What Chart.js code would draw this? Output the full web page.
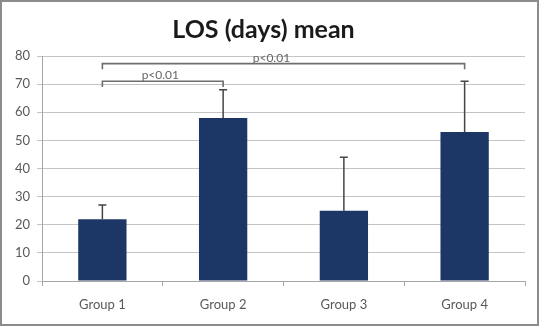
<!DOCTYPE html>
<html>
<head>
<meta charset="utf-8">
<script src="https://cdn.jsdelivr.net/npm/chart.js@4.4.1/dist/chart.umd.min.js"></script>
<style>
  html, body { margin: 0; padding: 0; background: #fff; }
  #box { width: 539px; height: 326px; box-sizing: border-box; border: 2px solid #8c8c8c; position: relative; }
</style>
</head>
<body>
<div id="box"><canvas id="myChart"></canvas></div>
<script>
// data
const groups = ['Group 1', 'Group 2', 'Group 3', 'Group 4'];
const losMean = [22, 58, 25, 53];
const losErrTop = [27, 68, 44, 71];
const yTicks = [0, 10, 20, 30, 40, 50, 60, 70, 80];

// significance brackets (category index from / to, bracket level, end levels, label)
const bracketFrom = [0, 0];
const bracketTo = [1, 3];
const bracketLevel = [71, 77.3];
const bracketEnd = [69, 75.3];
const bracketLabel = ['p<0.01', 'p<0.01'];
const bracketLabelAt = [0.48, 1.4];

Chart.defaults.font.family = 'Lato, "Open Sans", sans-serif';

const extras = {
  id: 'extras',
  afterDatasetsDraw(chart) {
    const ctx = chart.ctx;
    const x = chart.scales.x, y = chart.scales.y;
    ctx.save();
    // error bars
    ctx.strokeStyle = '#454545';
    ctx.lineWidth = 1.5;
    losMean.forEach((v, i) => {
      const cx = x.getPixelForValue(i);
      const y0 = y.getPixelForValue(v);
      const y1 = y.getPixelForValue(losErrTop[i]);
      ctx.beginPath();
      ctx.moveTo(cx, y0);
      ctx.lineTo(cx, y1);
      ctx.moveTo(cx - 4, y1);
      ctx.lineTo(cx + 4, y1);
      ctx.stroke();
    });
    // brackets
    ctx.strokeStyle = '#6e6e6e';
    ctx.lineWidth = 1.6;
    ctx.fillStyle = '#666';
    ctx.font = '12px Lato, "Open Sans", sans-serif';
    ctx.textAlign = 'center';
    ctx.textBaseline = 'alphabetic';
    bracketFrom.forEach((a, i) => {
      const xa = x.getPixelForValue(a);
      const xb = x.getPixelForValue(bracketTo[i]);
      const yl = y.getPixelForValue(bracketLevel[i]);
      const ye = y.getPixelForValue(bracketEnd[i]);
      ctx.beginPath();
      ctx.moveTo(xa, ye);
      ctx.lineTo(xa, yl);
      ctx.lineTo(xb, yl);
      ctx.lineTo(xb, ye);
      ctx.stroke();
      ctx.fillText(bracketLabel[i], x.getPixelForValue(bracketLabelAt[i]), yl - 2);
    });
    ctx.restore();
  }
};

var ctx = document.getElementById('myChart').getContext('2d');
var myChart = new Chart(ctx, {
  type: 'bar',
  data: {
    labels: groups,
    datasets: [{
      data: losMean,
      backgroundColor: '#1c3766',
      barPercentage: 0.4,
      categoryPercentage: 1.0
    }]
  },
  options: {
    responsive: true,
    maintainAspectRatio: false,
    animation: false,
    layout: { padding: { left: 0, right: 12, top: 0, bottom: 0 } },
    plugins: {
      legend: { display: false },
      tooltip: { enabled: false },
      title: {
        display: true,
        text: 'LOS (days) mean',
        color: '#1a1a1a',
        font: { size: 25, weight: 'bold', lineHeight: '28px' },
        padding: { top: 14, bottom: 12 }
      }
    },
    scales: {
      x: {
        afterFit(s) { s.height = 43; },
        grid: { drawOnChartArea: false, tickLength: 5, color: '#a6a6a6', offset: true },
        border: { color: '#a6a6a6' },
        ticks: { color: '#595959', font: { size: 13 }, padding: 11 }
      },
      y: {
        min: 0,
        max: 80,
        afterFit(s) { s.width = 40; },
        afterBuildTicks(s) { s.ticks = yTicks.map(v => ({ value: v })); },
        grid: { color: '#c4c4c4', tickLength: 5 },
        border: { color: '#a6a6a6' },
        ticks: { color: '#595959', font: { size: 13 }, padding: 7 }
      }
    }
  },
  plugins: [extras]
});
</script>
</body>
</html>
